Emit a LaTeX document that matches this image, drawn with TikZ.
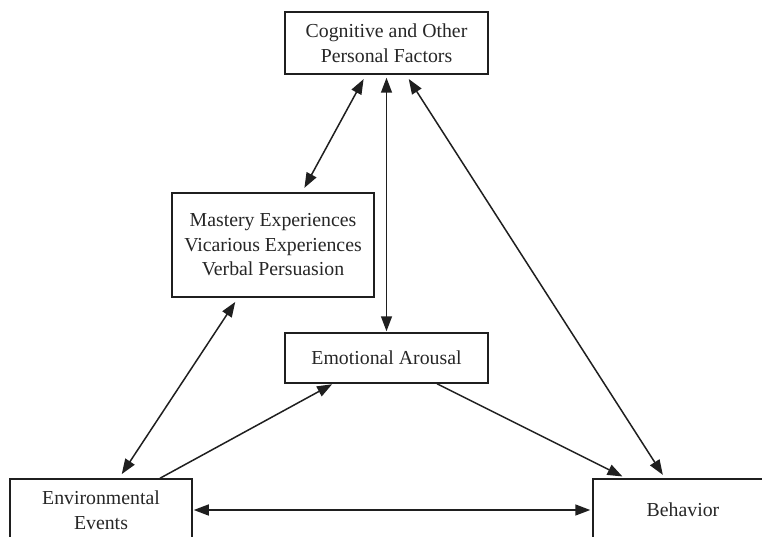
\documentclass[tikz,border=0pt]{standalone}
\usepackage{fontspec}
\setmainfont{Liberation Serif}
\usetikzlibrary{arrows.meta}
\begin{document}
\begin{tikzpicture}[x=1pt,y=-1pt,
  box/.style={draw=black!88, line width=1.5pt, align=center, inner sep=0pt,
    font=\fontsize{19.8}{24.5}\selectfont, text=black!85},
  conn/.style={draw=black!88, line width=1.5pt, {Triangle[length=15pt,width=11pt]}-{Triangle[length=15pt,width=11pt]}},
  oneway/.style={draw=black!88, line width=1.5pt, -{Triangle[length=15pt,width=11pt]}}]
\useasboundingbox (0,0) rectangle (762,537);
\clip (0,0) rectangle (762,537);
\node[box, minimum width=203pt, minimum height=62pt] (top) at (386.5,43) {Cognitive and Other\\Personal Factors};
\node[box, minimum width=202pt, minimum height=104pt] (mast) at (273,245) {Mastery Experiences\\Vicarious Experiences\\Verbal Persuasion};
\node[box, minimum width=203pt, minimum height=50pt] (emo) at (386.5,358) {Emotional Arousal};
\node[box, minimum width=182pt, minimum height=62pt] (env) at (101,510) {Environmental\\Events};
\node[box, minimum width=180pt, minimum height=62pt] (beh) at (683,510) {Behavior};
\draw[conn, shorten <=5pt, shorten >=5pt] ([xshift=-20.5pt]top.south) -- ([xshift=29pt]mast.north);
\draw[conn, shorten <=3pt, shorten >=1pt] (top.south) -- (emo.north);
\draw[conn, shorten <=5pt, shorten >=4pt] ([xshift=19.5pt]top.south) -- ([xshift=-18pt]beh.north);
\draw[conn, shorten <=5pt, shorten >=5pt] ([xshift=-35pt]mast.south) -- ([xshift=18pt]env.north);
\draw[oneway, shorten >=1pt] ([xshift=59pt]env.north) -- ([xshift=-53.5pt]emo.south);
\draw[oneway, shorten >=4pt] ([xshift=50.5pt]emo.south) -- ([xshift=-57pt]beh.north);
\draw[conn, shorten <=1pt, shorten >=2pt] (env.east) -- (beh.west);
\end{tikzpicture}
\end{document}
